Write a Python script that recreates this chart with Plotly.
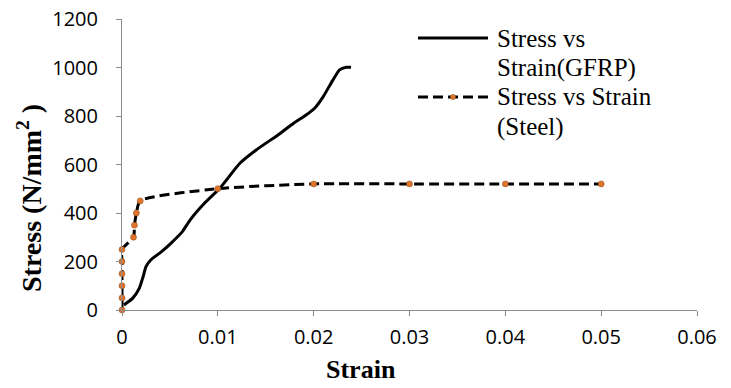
import plotly.graph_objects as go

gfrp_strain = [0.0002, 0.0011, 0.0018, 0.0022, 0.0025, 0.0030, 0.0041, 0.0051, 0.0063, 0.0071,
               0.0086, 0.0102, 0.0123, 0.0140, 0.0165, 0.0179, 0.0192, 0.0201, 0.0210, 0.0220,
               0.0227, 0.0234, 0.0239]
gfrp_stress = [21, 48, 89, 137, 179, 206, 240, 275, 323, 371,
               440, 502, 605, 660, 728, 770, 804, 832, 880, 948,
               990, 1001, 1001]

steel_strain = [0, 0, 0, 0, 0, 0, 0.0012, 0.0013, 0.0015, 0.0019, 0.01, 0.02, 0.03, 0.04, 0.05]
steel_stress = [0, 50, 100, 150, 200, 250, 300, 350, 400, 450, 500, 520, 520, 520, 520]

x_ticks = [0, 0.01, 0.02, 0.03, 0.04, 0.05, 0.06]
x_tick_labels = ["0", "0.01", "0.02", "0.03", "0.04", "0.05", "0.06"]
y_ticks = [0, 200, 400, 600, 800, 1000, 1200]
y_tick_labels = ["0", "200", "400", "600", "800", "1000", "1200"]

legend_gfrp = ["Stress vs", "Strain(GFRP)"]
legend_steel = ["Stress vs Strain", "(Steel)"]

MARKER_COLOR = "#E0742A"
SERIF = "Liberation Serif"

fig = go.Figure()
fig.add_trace(go.Scatter(
    x=gfrp_strain, y=gfrp_stress, mode="lines", showlegend=False,
    line=dict(color="black", width=3, shape="spline", smoothing=0.5),
))
fig.add_trace(go.Scatter(
    x=steel_strain, y=steel_stress, mode="lines+markers", showlegend=False,
    cliponaxis=False,
    line=dict(color="black", width=3, dash="10px,5px", shape="spline", smoothing=0.6),
    marker=dict(color=MARKER_COLOR, size=6, line=dict(color="#8a4a1a", width=0.5)),
))

axis_common = dict(
    showline=True, linecolor="#8c8c8c", linewidth=1,
    ticks="outside", tickcolor="#8c8c8c", ticklen=5, tickwidth=1,
    showgrid=False, zeroline=False, automargin=False,
    tickfont=dict(family="Open Sans", size=20, color="black"),
)

fig.update_xaxes(range=[0, 0.06], tickvals=x_ticks, ticktext=x_tick_labels,
                 ticklabelstandoff=4, **axis_common)
fig.update_yaxes(range=[0, 1200], tickvals=y_ticks, ticktext=y_tick_labels,
                 ticklabelstandoff=14, **axis_common)

# axis titles as annotations
fig.add_annotation(
    text="<b>Strain</b>", xref="paper", yref="paper", x=0.416, y=-0.206,
    xanchor="center", yanchor="middle", showarrow=False,
    font=dict(family=SERIF, size=26, color="black"),
)
fig.add_annotation(
    text="<b>Stress (N/mm<sup>2</sup> )</b>", xref="paper", yref="paper", x=-0.160, y=0.385,
    xanchor="center", yanchor="middle", showarrow=False, textangle=-90,
    font=dict(family=SERIF, size=28, color="black"),
)

# custom legend
lx0, lx1, ltext = 0.5148, 0.6365, 0.6487
ly = [0.9347, 0.8316, 0.732, 0.629]
fig.add_shape(type="line", xref="paper", yref="paper", x0=lx0, x1=lx1, y0=ly[0], y1=ly[0],
              line=dict(color="black", width=3))
fig.add_shape(type="line", xref="paper", yref="paper", x0=lx0, x1=lx1, y0=ly[2], y1=ly[2],
              line=dict(color="black", width=3, dash="10px,5px"))
mx = (lx0 + lx1) / 2
fig.add_shape(type="circle", xref="paper", yref="paper",
              x0=mx - 0.0045, x1=mx + 0.0045, y0=ly[2] - 0.0089, y1=ly[2] + 0.0089,
              fillcolor=MARKER_COLOR, line=dict(color="#8a4a1a", width=0.5))
for txt, yy in zip(legend_gfrp + legend_steel, ly):
    fig.add_annotation(
        text=txt, xref="paper", yref="paper", x=ltext, y=yy,
        xanchor="left", yanchor="middle", showarrow=False,
        font=dict(family=SERIF, size=25, color="black"),
    )

fig.update_layout(
    width=731, height=388,
    margin=dict(l=122, r=34, t=19, b=78),
    plot_bgcolor="white", paper_bgcolor="white",
    showlegend=False,
)

fig.write_html("out.html", config={"displayModeBar": False},
               post_script="document.body.style.margin='0px';")
